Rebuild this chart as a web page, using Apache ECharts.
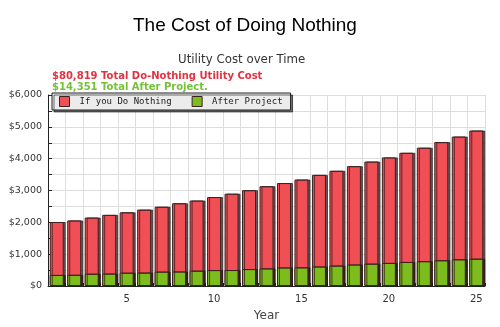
<!DOCTYPE html>
<html>
<head>
<meta charset="utf-8">
<script src="https://cdn.jsdelivr.net/npm/echarts@6/dist/echarts.min.js"></script>
<style>
  html, body { margin: 0; padding: 0; background: #fff; }
  #chart { width: 500px; height: 327px; }
</style>
</head>
<body>
<div id="chart"></div>
<script>
// Yearly utility cost, years 1..25
const years = ['1','2','3','4','5','6','7','8','9','10','11','12','13','14','15','16','17','18','19','20','21','22','23','24','25'];
const doNothing = [2010, 2060, 2150, 2235, 2315, 2400, 2490, 2600, 2685, 2795, 2900, 3010, 3135, 3235, 3345, 3490, 3620, 3765, 3910, 4040, 4185, 4345, 4520, 4695, 4884];
const afterProject = [348, 352, 386, 390, 418, 422, 452, 455, 482, 500, 502, 532, 552, 582, 585, 612, 642, 675, 702, 725, 755, 778, 808, 838, 858];
const yTicks = [0, 1000, 2000, 3000, 4000, 5000, 6000];
const xLabelYears = ['5', '10', '15', '20', '25'];

const fmtMoney = v => '$' + v.toLocaleString('en-US');
const totalDoNothing = doNothing.reduce((a, b) => a + b, 0);
const totalAfter = afterProject.reduce((a, b) => a + b, 0);

const chart = echarts.init(document.getElementById('chart'), null, { renderer: 'canvas' });

const RED = '#f04f56';
const GREEN = '#7cbc1c';
const EDGE = '#3b2222';

const barStyle = (color) => ({
  color: color,
  borderColor: EDGE,
  borderWidth: 1,
  shadowColor: 'rgba(40,20,20,0.7)',
  shadowOffsetX: 2,
  shadowOffsetY: 0,
  shadowBlur: 0
});

chart.setOption({
  animation: false,
  backgroundColor: '#fff',
  title: [
    {
      text: 'The Cost of Doing Nothing',
      left: 128, top: 11,
      textStyle: { fontFamily: 'Liberation Sans', fontSize: 19, fontWeight: 'normal', color: '#000' }
    },
    {
      text: 'Utility Cost over Time',
      left: 173, top: 49,
      textStyle: { fontFamily: 'DejaVu Sans', fontSize: 11.8, fontWeight: 'normal', color: '#333' }
    },
    {
      text: fmtMoney(totalDoNothing) + ' Total Do-Nothing Utility Cost',
      left: 47, top: 66,
      textStyle: { fontFamily: 'DejaVu Sans', fontSize: 10, fontWeight: 'bold', color: '#e2313f' }
    },
    {
      text: fmtMoney(totalAfter) + ' Total After Project.',
      left: 47, top: 77,
      textStyle: { fontFamily: 'DejaVu Sans', fontSize: 10, fontWeight: 'bold', color: '#76c236' }
    }
  ],
  legend: {
    left: 52, top: 93,
    padding: [3, 8, 3, 7],
    itemWidth: 10, itemHeight: 10,
    itemGap: 20,
    icon: 'rect',
    backgroundColor: '#ececec',
    borderColor: '#222',
    borderWidth: 1,
    shadowColor: 'rgba(0,0,0,0.55)',
    shadowOffsetX: 2, shadowOffsetY: 2, shadowBlur: 0,
    textStyle: { fontFamily: 'DejaVu Sans Mono', fontSize: 9, color: '#222', padding: [0, 0, 0, 5] },
    data: [
      { name: 'If you Do Nothing', itemStyle: { color: RED, borderColor: EDGE, borderWidth: 1 } },
      { name: 'After Project', itemStyle: { color: GREEN, borderColor: EDGE, borderWidth: 1 } }
    ]
  },
  grid: { left: 48, right: 15, top: 95, bottom: 36, containLabel: false },
  xAxis: {
    type: 'category',
    data: years,
    boundaryGap: true,
    name: 'Year',
    nameLocation: 'middle',
    nameGap: 24,
    nameTextStyle: { fontFamily: 'DejaVu Sans', fontSize: 12, color: '#444' },
    axisLine: { show: true, lineStyle: { color: '#222', width: 1 } },
    axisTick: { show: true, inside: true, length: 3, lineStyle: { color: '#222' }, interval: 0 },
    axisLabel: {
      interval: 0,
      margin: 8,
      fontFamily: 'DejaVu Sans', fontSize: 10, color: '#333',
      formatter: v => xLabelYears.includes(v) ? v : ''
    },
    splitLine: { show: true, interval: 0, lineStyle: { color: '#dedede', width: 1 } }
  },
  yAxis: {
    type: 'value',
    min: yTicks[0], max: yTicks[yTicks.length - 1],
    interval: 500,
    axisLine: { show: true, lineStyle: { color: '#222', width: 1 } },
    axisTick: { show: true, inside: true, length: 4, lineStyle: { color: '#222' } },
    axisLabel: {
      margin: 6,
      fontFamily: 'DejaVu Sans', fontSize: 9.5, color: '#333',
      formatter: v => yTicks.includes(v) ? fmtMoney(v) : ''
    },
    splitLine: { show: true, lineStyle: { color: '#dedede', width: 1 } }
  },
  series: [
    {
      name: 'If you Do Nothing',
      type: 'bar',
      data: doNothing,
      barWidth: '80%',
      barGap: '-100%',
      itemStyle: barStyle(RED)
    },
    {
      name: 'After Project',
      type: 'bar',
      data: afterProject,
      barWidth: '80%',
      itemStyle: barStyle(GREEN)
    }
  ]
});
</script>
</body>
</html>
